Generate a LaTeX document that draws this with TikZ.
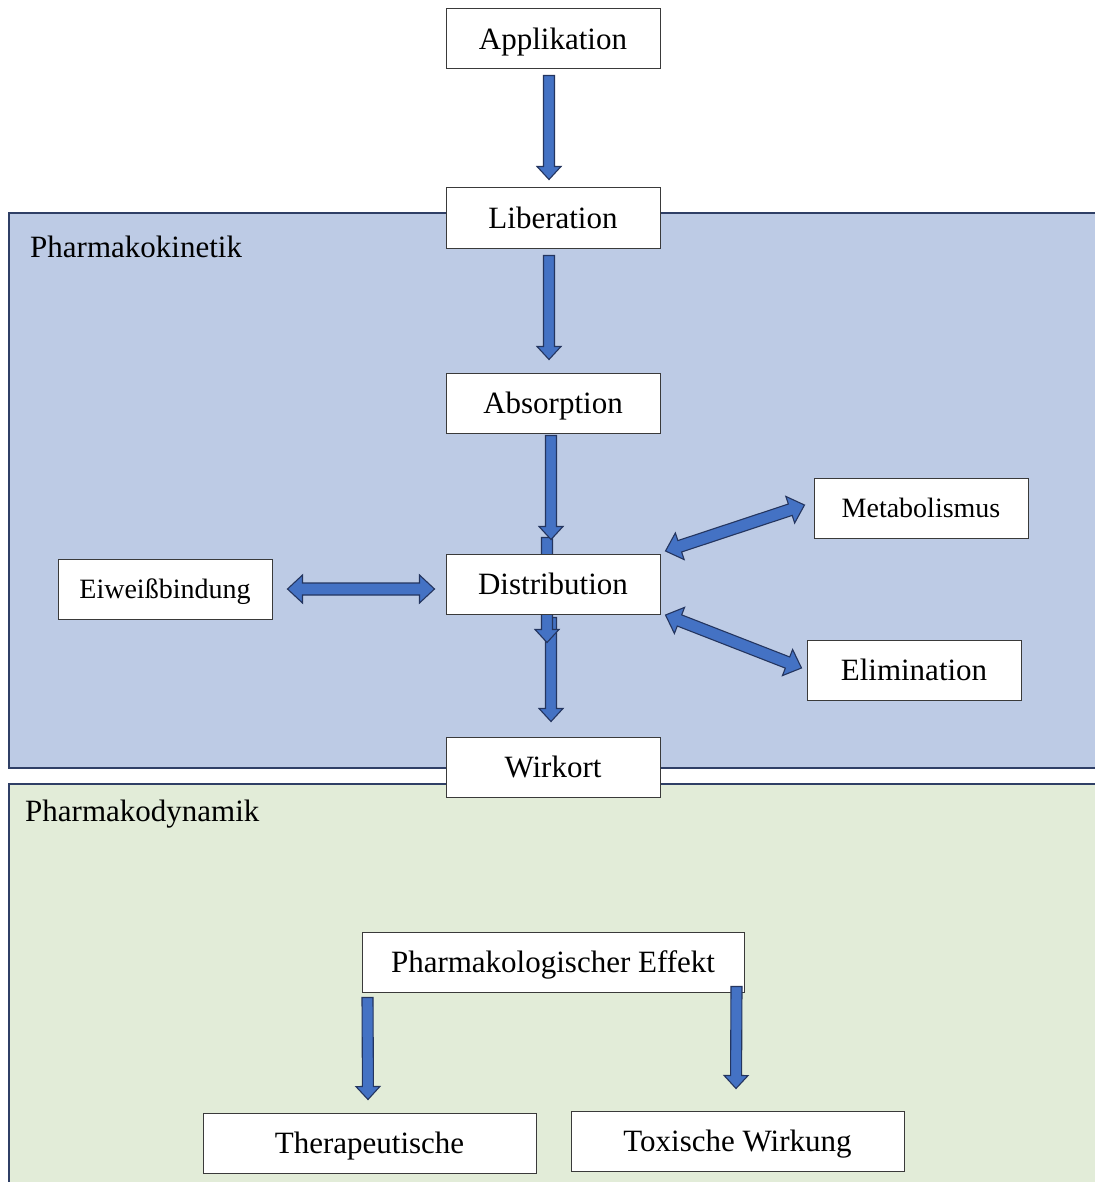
\documentclass[tikz,border=0pt]{standalone}
\usepackage{fontspec}
\setmainfont{Liberation Serif}
\usetikzlibrary{calc}
\pgfdeclarelayer{back}
\pgfdeclarelayer{mid}
\pgfsetlayers{back,mid,main}
\definecolor{kinfill}{HTML}{BDCBE5}
\definecolor{dynfill}{HTML}{E2ECD8}
\definecolor{panelline}{HTML}{2F3F66}
\definecolor{arrfill}{HTML}{4472C4}
\definecolor{arrline}{HTML}{24355F}
\definecolor{boxline}{HTML}{3A3A3A}
\tikzset{
  box/.style={draw=boxline, line width=1pt, fill=white, minimum width=214pt, minimum height=60pt, inner sep=0pt, text depth=-2pt, font=\fontsize{31}{37}\selectfont},
  smallbox/.style={box, font=\fontsize{28}{34}\selectfont},
  panel/.style={draw=panelline, line width=1.6pt},
  blk/.style={draw=arrline, fill=arrfill, line width=1.1pt, line join=miter},
  paneltitle/.style={anchor=west, inner sep=0pt, font=\fontsize{31}{37}\selectfont},
}
% single block arrow from #1 to #2
\newcommand\sarrow[2]{%
  \path let \p1=(#1), \p2=(#2), \n1={atan2(\y2-\y1,\x2-\x1)}, \n2={veclen(\x2-\x1,\y2-\y1)} in
    [blk, shift={(\p1)}, rotate=\n1]
    (0,-5.5) -- ({\n2-13},-5.5) -- ({\n2-13},-12) -- (\n2,0) -- ({\n2-13},12) -- ({\n2-13},5.5) -- (0,5.5) -- cycle;}
% double block arrow between #1 and #2
\newcommand\darrow[2]{%
  \path let \p1=(#1), \p2=(#2), \n1={atan2(\y2-\y1,\x2-\x1)}, \n2={veclen(\x2-\x1,\y2-\y1)} in
    [blk, shift={(\p1)}, rotate=\n1]
    (0,0) -- (15,-14) -- (15,-6) -- ({\n2-15},-6) -- ({\n2-15},-14) -- (\n2,0) -- ({\n2-15},14) -- ({\n2-15},6) -- (15,6) -- (15,14) -- cycle;}
\begin{document}
\begin{tikzpicture}[x=1pt, y=-1pt]
\clip (0,0) rectangle (1094,1182);

% nodes
\node[box] (app) at (553,39) {Applikation};
\node[box] (lib) at (553,218) {Liberation};
\node[box] (abs) at (553,403) {Absorption};
\node[box] (dist) at (553,584) {Distribution};
\node[box] (wirk) at (553,767) {Wirkort};
\node[smallbox] (meta) at (921,508) {Metabolismus};
\node[box] (elim) at (914,670) {Elimination};
\node[smallbox] (eiw) at (165,589) {Eiweißbindung};
\node[box, minimum width=382pt] (pe) at (553,962) {Pharmakologischer Effekt};
\node[box, minimum width=333pt] (ther) at (369.5,1143) {Therapeutische};
\node[box, minimum width=333pt] (tox) at (737.5,1141) {Toxische Wirkung};

% panels
\begin{pgfonlayer}{back}
  \fill[white] (0,0) rectangle (1094,1182);
  \draw[panel, fill=kinfill] (9,213) rectangle (1110,768);
  \draw[panel, fill=dynfill] (9,784) rectangle (1110,1200);
  \node[paneltitle] (kin) at (30,247) {Pharmakokinetik};
  \node[paneltitle] (dyn) at (25,814) {Pharmakodynamik};
\end{pgfonlayer}

% arrows around Distribution, behind the box
\begin{pgfonlayer}{mid}
  \coordinate (a5s) at ($(dist.south)+(-2,3)$);
  \coordinate (a5e) at ($(wirk.north)+(-2,-15)$);
  \sarrow{a5s}{a5e}
  \coordinate (b1) at ($(dist.north)+(-6,-16)$);
  \coordinate (b2) at ($(dist.south)+(-6,28)$);
  \sarrow{b1}{b2}
\end{pgfonlayer}

% arrow end points
\coordinate (a1s) at ($(app.south)+(-4,6)$);
\coordinate (a1e) at ($(lib.north)+(-4,-8)$);
\coordinate (a2s) at ($(lib.south)+(-4,7)$);
\coordinate (a2e) at ($(abs.north)+(-4,-13)$);
\coordinate (a3s) at ($(abs.south)+(-2,2)$);
\coordinate (a3e) at ($(dist.north)+(-2,-14)$);
\coordinate (e1) at ($(eiw.east)+(15,0)$);
\coordinate (e2) at ($(dist.west)+(-11,5)$);
\coordinate (m1) at ($(dist.east)+(5,-33)$);
\coordinate (m2) at ($(meta.west)+(-9,-3)$);
\coordinate (l1) at ($(dist.east)+(5,31)$);
\coordinate (l2) at ($(elim.west)+(-5,-2)$);
\coordinate (t1s) at ($(pe.south west)+(6,5)$);
\coordinate (t1e) at ($(ther.north)+(-1.5,-13)$);
\coordinate (t2s) at ($(pe.south east)+(-8,-6)$);
\coordinate (t2e) at ($(tox.north)+(-1.5,-22)$);

\sarrow{a1s}{a1e}
\sarrow{a2s}{a2e}
\sarrow{a3s}{a3e}
\darrow{e1}{e2}
\darrow{m1}{m2}
\darrow{l1}{l2}
\sarrow{t1s}{t1e}
\sarrow{t2s}{t2e}
\end{tikzpicture}
\end{document}
